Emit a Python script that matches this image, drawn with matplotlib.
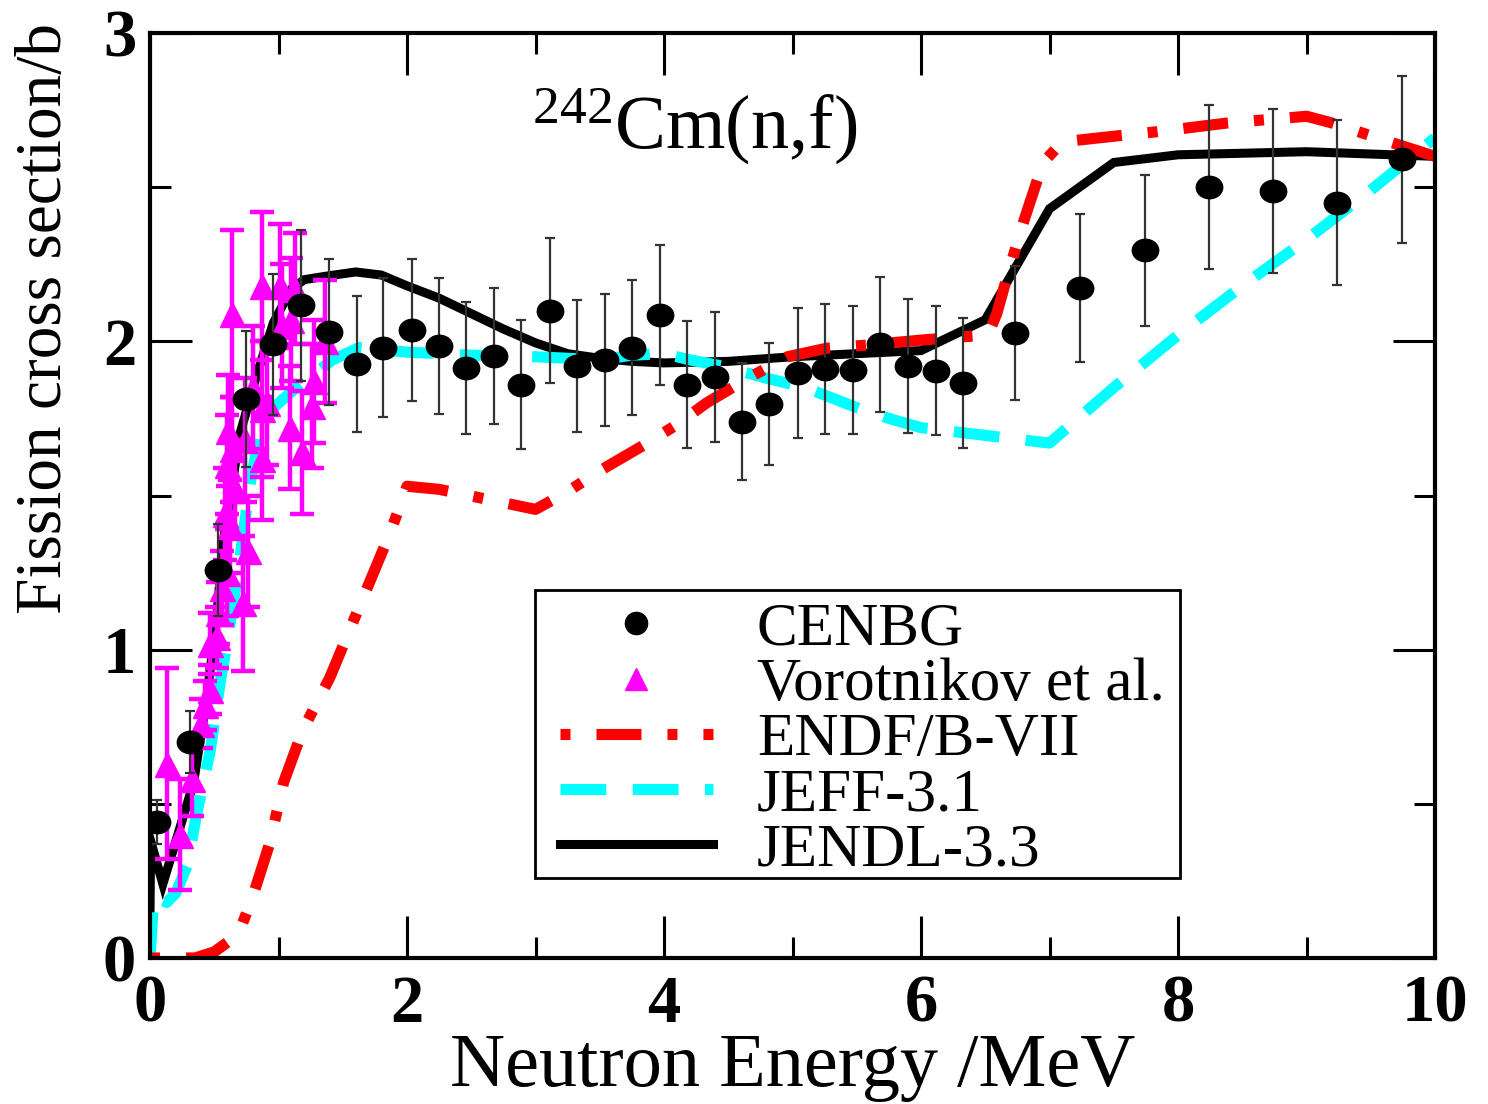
import matplotlib
matplotlib.use("Agg")
import matplotlib.pyplot as plt
import numpy as np
from matplotlib.lines import Line2D
from matplotlib.path import Path
from matplotlib.patches import Rectangle
from matplotlib.ticker import MultipleLocator

plt.rcParams['font.family'] = ['Liberation Serif', 'DejaVu Serif']
plt.rcParams['mathtext.fontset'] = 'custom'
plt.rcParams['mathtext.rm'] = 'Liberation Serif'
plt.rcParams['lines.scale_dashes'] = False

# ---------------- data ----------------
cenbg_x = [0.054, 0.31, 0.53, 0.745, 0.96, 1.175, 1.39, 1.61, 1.815, 2.04, 2.25, 2.46,
           2.68, 2.89, 3.11, 3.32, 3.54, 3.75, 3.97, 4.18, 4.40, 4.61, 4.82, 5.04,
           5.25, 5.47, 5.68, 5.90, 6.12, 6.33, 6.73, 7.24, 7.74, 8.24, 8.74, 9.24, 9.74]
cenbg_y = [0.441, 0.70, 1.258, 1.813, 1.99, 2.117, 2.03, 1.927, 1.98, 2.037, 1.985, 1.914,
           1.952, 1.86, 2.10, 1.92, 1.94, 1.98, 2.086, 1.86, 1.885, 1.74, 1.797, 1.897,
           1.91, 1.907, 1.99, 1.92, 1.905, 1.865, 2.027, 2.173, 2.296, 2.50, 2.488, 2.45, 2.59]
cenbg_err = [0.07, 0.10, 0.15, 0.22, 0.23, 0.245, 0.237, 0.22, 0.227, 0.23, 0.22, 0.215,
             0.22, 0.21, 0.235, 0.215, 0.215, 0.22, 0.227, 0.205, 0.21, 0.19, 0.197, 0.21,
             0.21, 0.208, 0.22, 0.216, 0.21, 0.21, 0.217, 0.24, 0.245, 0.265, 0.265, 0.267, 0.27]

voro_x = [0.13, 0.23, 0.33, 0.40, 0.43, 0.47, 0.47, 0.52, 0.53, 0.56, 0.60, 0.62,
          0.58, 0.66, 0.60, 0.64, 0.61, 0.72, 0.76, 0.74, 0.64, 0.87, 0.87, 0.87,
          0.80, 0.91, 1.01, 1.03, 1.10, 1.13, 1.09, 1.18, 1.26, 1.28, 1.36]
voro_y = [0.63, 0.40, 0.58, 0.76, 0.82, 0.87, 1.02, 1.04, 1.12, 1.20, 1.25, 1.40,
          1.44, 1.52, 1.60, 1.65, 1.71, 1.15, 1.32, 1.68, 2.09, 1.62, 1.78, 2.18,
          1.85, 1.80, 2.18, 2.05, 2.07, 2.17, 1.72, 1.64, 1.79, 1.87, 2.00]
voro_err = [0.31, 0.18, 0.12, 0.08, 0.08, 0.08, 0.10, 0.10, 0.10, 0.12, 0.14, 0.15,
            0.15, 0.16, 0.16, 0.17, 0.18, 0.22, 0.18, 0.20, 0.27, 0.20, 0.22, 0.24,
            0.20, 0.20, 0.20, 0.20, 0.20, 0.18, 0.20, 0.20, 0.20, 0.20, 0.20]

endf_x = [0.0, 0.35, 0.5, 0.6, 0.7, 0.8, 0.93, 1.04, 1.19, 1.40, 1.58, 1.77, 1.87, 2.0,
          2.25, 3.0, 3.24, 3.5, 3.87, 4.1, 4.33, 4.67, 4.96, 5.27, 5.58, 6.0, 6.3, 6.52,
          6.59, 6.67, 6.8, 6.95, 7.1, 7.52, 7.84, 8.38, 9.0, 9.2, 9.6, 10.0]
endf_y = [0.0, 0.0, 0.02, 0.05, 0.09, 0.2, 0.37, 0.57, 0.74, 0.91, 1.09, 1.28, 1.38, 1.53,
          1.52, 1.455, 1.51, 1.58, 1.67, 1.73, 1.80, 1.884, 1.95, 1.978, 1.988, 2.004, 2.014, 2.02,
          2.09, 2.21, 2.39, 2.58, 2.647, 2.666, 2.68, 2.708, 2.73, 2.708, 2.653, 2.60]

jeff_x = [0.0, 0.03, 0.08, 0.13, 0.2, 0.29, 0.36, 0.47, 0.545, 0.6, 0.68, 0.78, 0.88,
          1.11, 1.42, 1.63, 2.0, 2.5, 3.0, 3.5, 3.75, 4.0, 4.2, 4.45, 4.8, 5.1, 5.5,
          5.75, 6.0, 6.4, 7.0, 7.5, 8.0, 8.5, 9.0, 9.5, 10.0]
jeff_y = [0.0, 0.20, 0.19, 0.18, 0.21, 0.30, 0.46, 0.675, 0.89, 1.02, 1.24, 1.54, 1.755,
          1.84, 1.94, 1.98, 1.965, 1.955, 1.95, 1.94, 1.955, 1.96, 1.94, 1.92, 1.88, 1.85, 1.785,
          1.75, 1.72, 1.70, 1.67, 1.85, 2.02, 2.18, 2.33, 2.49, 2.66]

jendl_x = [0.0, 0.005, 0.1, 0.18, 0.34, 0.44, 0.52, 0.57, 0.70, 0.83, 0.96, 1.1, 1.2,
           1.35, 1.6, 1.8, 2.0, 2.25, 2.5, 2.75, 3.0, 3.25, 3.5, 3.75, 4.0, 4.5, 5.0,
           5.5, 6.0, 6.5, 7.0, 7.5, 8.0, 9.0, 10.0]
jendl_y = [0.14, 0.38, 0.24, 0.35, 0.57, 0.84, 1.11, 1.35, 1.70, 1.89, 2.06, 2.17, 2.20,
           2.21, 2.225, 2.215, 2.18, 2.14, 2.09, 2.04, 1.995, 1.96, 1.945, 1.935, 1.93, 1.935, 1.95,
           1.96, 1.97, 2.07, 2.43, 2.58, 2.605, 2.615, 2.60]

x_ticks = [0, 2, 4, 6, 8, 10]
y_ticks = [0, 1, 2, 3]

# ---------------- figure ----------------
fig = plt.figure(figsize=(14.88, 11.04), dpi=100)
ax = fig.add_axes([150/1488, 1-958/1104, (1435-150)/1488, (958-33)/1104])

circ = Path.unit_circle()
ell = Path(circ.vertices * np.array([1.0, 0.85]), circ.codes)

endf_style = (0, (7.2, 18.7, 32.4, 18.7))
jeff_style = (0, (33, 19))

ax.plot(jendl_x, jendl_y, color='black', lw=6.5, solid_joinstyle='miter', zorder=2)
ax.plot(jeff_x, jeff_y, color='#00ffff', lw=8, linestyle=jeff_style, zorder=2.1)
ax.plot(endf_x, endf_y, color='#ff0000', lw=8, linestyle=endf_style, zorder=2.2)

ax.errorbar(voro_x, voro_y, yerr=voro_err, fmt='^', color='#ff00ff', ecolor='#ff00ff',
            markersize=18, elinewidth=3.2, capsize=8.6, capthick=3.2, zorder=3)
ax.errorbar(cenbg_x, cenbg_y, yerr=cenbg_err, fmt='none', ecolor='#333333',
            elinewidth=1.6, capsize=3.6, capthick=1.6, zorder=3.5)
ax.plot(cenbg_x, cenbg_y, ls='none', marker=ell, markersize=19, color='black', zorder=4)

ax.set_xlim(0, 10)
ax.set_ylim(0, 3)
ax.set_xticks(x_ticks)
ax.set_yticks(y_ticks)
ax.xaxis.set_minor_locator(MultipleLocator(1))
ax.yaxis.set_minor_locator(MultipleLocator(0.5))
ax.tick_params(which='both', direction='in', top=True, right=True, width=2.2)
ax.tick_params(which='major', length=30)
ax.tick_params(which='minor', length=15)
ax.tick_params(axis='x', which='major', pad=12)
ax.tick_params(axis='y', which='major', pad=10)
for lab in ax.get_xticklabels() + ax.get_yticklabels():
    lab.set_fontsize(48)
    lab.set_fontweight('bold')
for sp in ax.spines.values():
    sp.set_linewidth(3)

ax.set_xlabel('Neutron Energy /MeV', fontsize=55, labelpad=-2)
ax.set_ylabel('Fission cross section/b', fontsize=47)
ax.yaxis.set_label_coords((75 - 150) / 1285, (958 - 318) / 925)

ax.text(0.424, 0.876, r'$\mathregular{^{242}}$Cm(n,f)', transform=ax.transAxes,
        fontsize=55, ha='center', va='baseline')

# legend frame
ax.add_patch(Rectangle(((535 - 150) / 1285, (958 - 878) / 925),
                       (1180 - 535) / 1285, (878 - 590) / 925,
                       transform=ax.transAxes, facecolor='white', edgecolor='black',
                       lw=2, zorder=5))

handles = [
    Line2D([], [], ls='none', marker='o', markersize=16, color='black'),
    Line2D([], [], ls='none', marker='^', markersize=16, color='#ff00ff'),
    Line2D([], [], color='#ff0000', lw=8, linestyle=endf_style),
    Line2D([], [], color='#00ffff', lw=8, linestyle=jeff_style),
    Line2D([], [], color='black', lw=6.5),
]
labels = ['CENBG', 'Vorotnikov et al.', 'ENDF/B-VII', 'JEFF-3.1', 'JENDL-3.3']
leg = ax.legend(handles, labels, loc='upper left',
                bbox_to_anchor=((560 - 150) / 1285, (958 - 602) / 925),
                fontsize=44, frameon=False, borderpad=0, labelspacing=-0.01,
                handlelength=2.5, handletextpad=0.72, borderaxespad=0, numpoints=1)
leg.set_zorder(6)

fig.savefig('out.png', dpi=100)
